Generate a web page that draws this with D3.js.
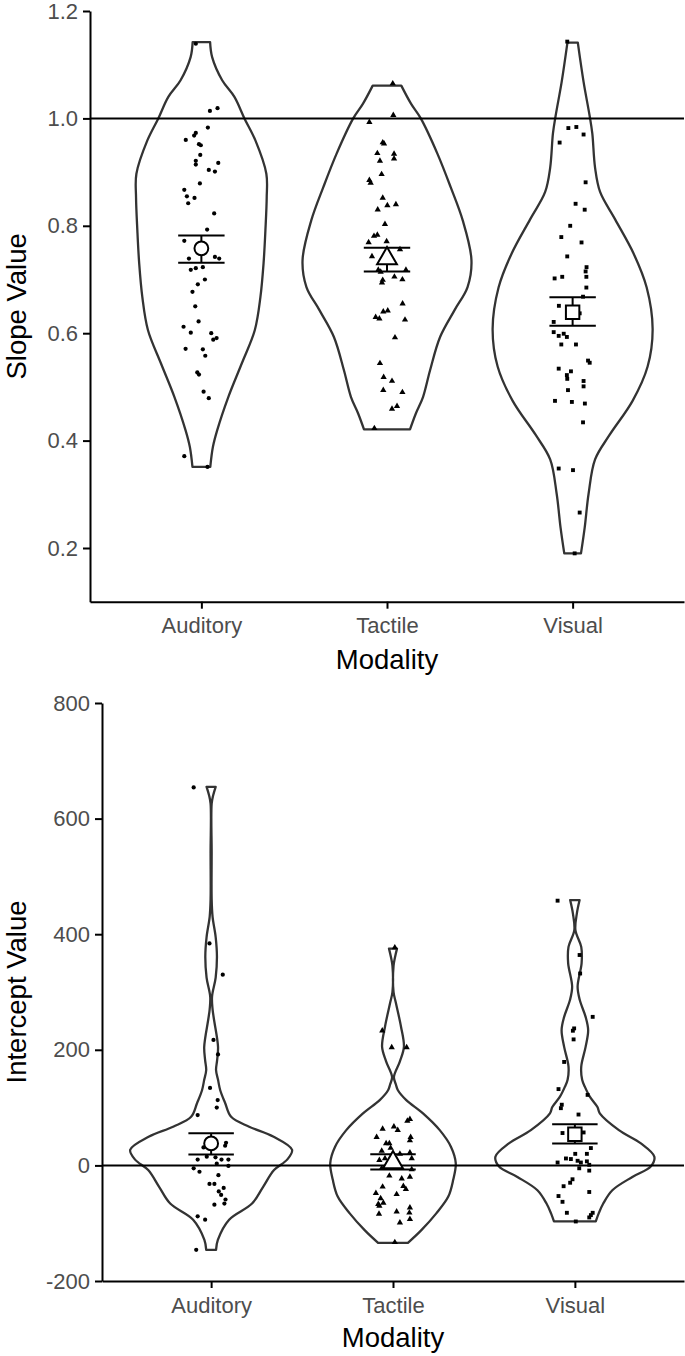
<!DOCTYPE html>
<html><head><meta charset="utf-8">
<script src="https://cdn.jsdelivr.net/npm/d3@7"></script>
<style>body{margin:0;background:#fff} svg{display:block}</style>
</head><body><svg id="c" width="685" height="1356"></svg>
<script>
// ---------- DATA ----------
const categories = ["Auditory", "Tactile", "Visual"];
const xTitle = "Modality";

// Top panel: slope
const slopeTitle = "Slope Value";
const slopeTicks = [0.2, 0.4, 0.6, 0.8, 1.0, 1.2];
const slopeTickLabels = ["0.2", "0.4", "0.6", "0.8", "1.0", "1.2"];
const slopeRef = 1.0;
const slopeMean = [0.758, 0.739, 0.639];
const slopeLower = [0.731, 0.715, 0.614];
const slopeUpper = [0.782, 0.759, 0.667];
// violin outlines: [value, half-width in category steps]
const slopeViolinAuditory = [[1.142,0.047],[1.114,0.058],[1.071,0.112],[1.04,0.178],[1.0,0.232],[0.959,0.291],[0.897,0.350],[0.853,0.352],[0.792,0.345],[0.730,0.335],[0.667,0.318],[0.606,0.288],[0.544,0.218],[0.481,0.145],[0.419,0.085],[0.388,0.062],[0.351,0.048]];
const slopeViolinTactile = [[1.061,0.077],[1.027,0.130],[1.0,0.182],[0.934,0.272],[0.872,0.343],[0.81,0.408],[0.736,0.455],[0.686,0.434],[0.643,0.364],[0.593,0.286],[0.531,0.232],[0.481,0.194],[0.451,0.156],[0.421,0.124]];
const slopeViolinVisual = [[1.141,0.028],[1.068,0.059],[1.004,0.092],[0.972,0.106],[0.908,0.121],[0.863,0.148],[0.812,0.229],[0.748,0.329],[0.685,0.399],[0.608,0.431],[0.538,0.404],[0.474,0.323],[0.41,0.198],[0.365,0.121],[0.301,0.086],[0.238,0.065],[0.19,0.045]];
// jittered observations: [value, jitter in category steps]
const slopeAuditory = [[1.139,-0.030],[1.014,0.046],[1.019,0.087],[0.983,0.035],[0.973,-0.030],[0.968,-0.039],[0.960,-0.084],[0.952,-0.013],[0.950,-0.003],[0.932,-0.006],[0.921,-0.030],[0.914,-0.030],[0.917,0.091],[0.904,0.040],[0.901,0.073],[0.879,-0.008],[0.867,-0.092],[0.855,-0.078],[0.852,-0.037],[0.842,-0.071],[0.823,0.069],[0.793,0.031],[0.772,-0.092],[0.739,-0.067],[0.742,0.073],[0.739,0.096],[0.718,-0.057],[0.721,-0.030],[0.723,0.008],[0.700,0.019],[0.691,-0.019],[0.677,-0.048],[0.650,-0.033],[0.622,-0.015],[0.612,-0.096],[0.601,-0.057],[0.600,0.053],[0.588,0.064],[0.591,0.082],[0.571,-0.085],[0.570,0.008],[0.558,0.021],[0.527,-0.022],[0.523,-0.013],[0.491,0.012],[0.479,0.040],[0.371,-0.092],[0.351,0.033]];
const slopeTactile = [[1.065,0.031],[1.006,0.034],[0.993,-0.095],[0.955,-0.023],[0.953,-0.016],[0.935,-0.052],[0.934,0.038],[0.925,0.038],[0.921,-0.038],[0.896,-0.029],[0.885,-0.095],[0.880,-0.088],[0.852,-0.023],[0.830,-0.050],[0.838,0.002],[0.840,0.048],[0.803,-0.011],[0.781,-0.070],[0.783,-0.052],[0.769,-0.099],[0.771,-0.002],[0.756,0.070],[0.743,-0.081],[0.718,-0.047],[0.714,-0.034],[0.718,0.102],[0.699,-0.023],[0.694,-0.027],[0.705,0.040],[0.700,0.083],[0.655,0.084],[0.630,-0.061],[0.627,-0.041],[0.640,-0.020],[0.642,0.004],[0.625,0.097],[0.592,0.043],[0.544,-0.038],[0.518,-0.018],[0.511,0.027],[0.494,-0.020],[0.490,0.083],[0.459,0.027],[0.464,0.054],[0.423,-0.068]];
const slopeVisual = [[1.143,-0.029],[0.982,-0.023],[0.984,0.020],[0.970,0.059],[0.955,-0.070],[0.881,0.070],[0.841,0.016],[0.830,0.065],[0.800,-0.013],[0.779,-0.061],[0.769,0.048],[0.743,-0.029],[0.723,0.075],[0.715,0.070],[0.702,-0.097],[0.705,-0.056],[0.705,0.074],[0.685,0.074],[0.668,0.056],[0.651,-0.074],[0.637,0.038],[0.621,-0.102],[0.602,-0.102],[0.595,-0.075],[0.599,-0.048],[0.593,-0.031],[0.579,-0.061],[0.579,0.018],[0.549,0.083],[0.545,0.092],[0.534,-0.075],[0.529,-0.009],[0.522,-0.031],[0.515,-0.029],[0.511,0.059],[0.501,0.059],[0.494,-0.025],[0.474,-0.095],[0.472,-0.004],[0.469,0.066],[0.434,0.056],[0.348,-0.075],[0.345,0.002],[0.266,0.038],[0.190,0.011]];

// Bottom panel: intercept
const interceptTitle = "Intercept Value";
const interceptTicks = [-200, 0, 200, 400, 600, 800];
const interceptTickLabels = ["-200", "0", "200", "400", "600", "800"];
const interceptRef = 0;
const interceptMean = [38, 5, 54];
const interceptLower = [19, -7, 38];
const interceptUpper = [55.5, 19.5, 71];
const interceptViolinAuditory = [[655,0.025],[640,0.011],[626,0.003],[540,0.003],[460,0.003],[430,0.008],[395,0.025],[361,0.032],[325,0.025],[292,0.005],[270,0.008],[252,0.016],[205,0.038],[182,0.033],[165,0.027],[148,0.038],[130,0.05],[108,0.077],[84,0.11],[67,0.209],[50,0.341],[27,0.445],[10,0.418],[-8,0.346],[-37,0.286],[-66,0.225],[-94,0.099],[-129,0.037],[-146,0.027]];
const interceptViolinTactile = [[375,0.022],[360,0.011],[345,0.003],[300,0.003],[281,0.016],[240,0.044],[205,0.060],[180,0.038],[153,0.005],[140,0.016],[130,0.027],[113,0.073],[90,0.165],[61,0.257],[32,0.319],[4,0.345],[-25,0.331],[-54,0.304],[-83,0.238],[-112,0.156],[-134,0.082]];
const interceptViolinVisual = [[459,0.026],[436,0.011],[407,0.003],[378,0.035],[350,0.037],[309,0.015],[286,0.027],[257,0.059],[234,0.073],[205,0.059],[171,0.035],[148,0.040],[136,0.055],[119,0.082],[101,0.124],[90,0.137],[61,0.242],[38,0.363],[15,0.437],[-2,0.417],[-20,0.316],[-43,0.206],[-66,0.156],[-83,0.131],[-97,0.115]];
const interceptAuditory = [[654,-0.096],[384,-0.009],[330,0.064],[217,0.013],[192,0.038],[134,-0.006],[113,0.036],[100,0.031],[87,-0.074],[39,0.082],[34,0.077],[31,-0.042],[10,-0.074],[15,-0.024],[14,0.024],[10,0.057],[10,0.095],[3,0.031],[-1,0.095],[-5,-0.096],[-11,-0.064],[-17,0.040],[-32,-0.009],[-32,0.018],[-39,0.069],[-45,0.042],[-51,0.055],[-59,0.079],[-66,0.073],[-68,0.018],[-88,-0.074],[-94,-0.033],[-146,-0.082]];
const interceptTactile = [[377,0.010],[233,-0.059],[204,-0.007],[204,0.075],[80,0.093],[77,0.079],[63,-0.057],[67,0.005],[61,0.026],[49,-0.090],[49,0.097],[43,0.093],[38,-0.038],[38,-0.020],[25,-0.062],[30,-0.013],[20,0.038],[22,0.093],[9,-0.075],[12,-0.044],[12,0.103],[-5,-0.062],[-7,0.103],[-18,-0.020],[-23,0.048],[-20,0.093],[-37,-0.057],[-36,0.057],[-41,0.071],[-48,-0.094],[-50,0.020],[-57,-0.068],[-67,-0.081],[-65,-0.053],[-70,-0.075],[-73,0.093],[-80,0.020],[-82,0.090],[-84,-0.077],[-99,0.038],[-93,0.093],[-133,0.010]];
const interceptVisual = [[458,-0.095],[364,0.026],[332,0.029],[257,0.098],[237,-0.004],[233,-0.011],[218,-0.007],[179,-0.059],[132,-0.090],[122,0.070],[105,-0.072],[99,-0.077],[88,0.020],[56,-0.068],[57,0.048],[30,0.088],[20,0.066],[12,-0.049],[20,0.002],[5,-0.095],[11,-0.022],[8,0.015],[5,0.033],[7,0.066],[1,0.079],[-5,0.024],[-9,0.079],[-24,-0.013],[-30,-0.026],[-36,-0.062],[-46,0.079],[-53,-0.090],[-63,-0.068],[-82,-0.044],[-82,0.098],[-90,0.079],[-97,0.005],[-86,0.088]];

// ---------- DRAWING ----------
const svg = d3.select("#c");
const FONT = '"Liberation Sans", Arial, Helvetica, sans-serif';
const symbolTypes = [d3.symbolCircle, d3.symbolTriangle, d3.symbolSquare];
const pointSizes = [14, 17, 15];
const meanSizes = [150, 170, 180];

function panel(cfg) {
  const x = d3.scalePoint().domain(categories).range([cfg.left, cfg.right]).padding(0.6);
  const y = d3.scaleLinear().domain(cfg.domain).range([cfg.bottom, cfg.top]);
  const step = x.step();
  const g = svg.append("g");

  // violins
  const side = d3.line().curve(d3.curveCatmullRom.alpha(0.5));
  cfg.violins.forEach((prof, i) => {
    const cx = x(categories[i]);
    const right = prof.map(([v, w]) => [cx + w * step, y(v)]);
    const left = prof.slice().reverse().map(([v, w]) => [cx - w * step, y(v)]);
    const d = side(right) + side(left).replace(/^M/, "L") + "Z";
    g.append("path").attr("d", d).attr("fill", "none")
      .attr("stroke", "#333").attr("stroke-width", 2.3).attr("stroke-linejoin", "round");
  });

  // reference line
  g.append("line").attr("x1", cfg.left).attr("x2", cfg.right)
    .attr("y1", y(cfg.ref)).attr("y2", y(cfg.ref))
    .attr("stroke", "#000").attr("stroke-width", 2);

  // jittered points
  cfg.points.forEach((pts, i) => {
    const cx = x(categories[i]);
    g.append("g").selectAll("path").data(pts).join("path")
      .attr("d", d3.symbol().type(symbolTypes[i]).size(pointSizes[i]))
      .attr("transform", d => `translate(${cx + d[1] * step},${y(d[0])})`)
      .attr("fill", "#000");
  });

  // error bars + mean
  categories.forEach((c, i) => {
    const cx = x(c);
    const hw = 0.125 * step;
    const eg = g.append("g").attr("stroke", "#000").attr("stroke-width", 2);
    eg.append("line").attr("x1", cx).attr("x2", cx).attr("y1", y(cfg.lower[i])).attr("y2", y(cfg.upper[i]));
    eg.append("line").attr("x1", cx - hw).attr("x2", cx + hw).attr("y1", y(cfg.lower[i])).attr("y2", y(cfg.lower[i]));
    eg.append("line").attr("x1", cx - hw).attr("x2", cx + hw).attr("y1", y(cfg.upper[i])).attr("y2", y(cfg.upper[i]));
    g.append("path").attr("d", d3.symbol().type(symbolTypes[i]).size(meanSizes[i]))
      .attr("transform", `translate(${cx},${y(cfg.mean[i])})`)
      .attr("fill", "#fff").attr("stroke", "#000").attr("stroke-width", 2);
  });

  // axes
  const ax = g.append("g").attr("transform", `translate(0,${cfg.bottom})`)
    .call(d3.axisBottom(x).tickSize(7).tickSizeOuter(0).tickPadding(9));
  const ay = g.append("g").attr("transform", `translate(${cfg.left},0)`)
    .call(d3.axisLeft(y).tickValues(cfg.ticks).tickFormat((d, i) => cfg.tickLabels[i])
      .tickSize(7).tickSizeOuter(0).tickPadding(5));
  [ax, ay].forEach(a => {
    a.select(".domain").attr("stroke", "#000").attr("stroke-width", 2);
    a.selectAll(".tick line").attr("stroke", "#000").attr("stroke-width", 2);
    a.selectAll(".tick text").attr("fill", "#4d4d4d").style("font-family", FONT).style("font-size", "22px");
  });

  // titles
  g.append("text").attr("x", (cfg.left + cfg.right) / 2).attr("y", cfg.xTitleY)
    .attr("text-anchor", "middle").style("font-family", FONT).style("font-size", "27.5px")
    .attr("fill", "#000").text(xTitle);
  g.append("text").attr("transform", `translate(26,${(cfg.top + cfg.bottom) / 2}) rotate(-90)`)
    .attr("text-anchor", "middle").style("font-family", FONT).style("font-size", "27.5px")
    .attr("fill", "#000").text(cfg.yTitle);
}

panel({
  left: 90, right: 684, top: 11, bottom: 601.7, domain: [0.1, 1.2],
  ticks: slopeTicks, tickLabels: slopeTickLabels, ref: slopeRef,
  violins: [slopeViolinAuditory, slopeViolinTactile, slopeViolinVisual],
  points: [slopeAuditory, slopeTactile, slopeVisual],
  mean: slopeMean, lower: slopeLower, upper: slopeUpper,
  yTitle: slopeTitle, xTitleY: 669
});
panel({
  left: 102, right: 684, top: 703, bottom: 1281, domain: [-200, 800],
  ticks: interceptTicks, tickLabels: interceptTickLabels, ref: interceptRef,
  violins: [interceptViolinAuditory, interceptViolinTactile, interceptViolinVisual],
  points: [interceptAuditory, interceptTactile, interceptVisual],
  mean: interceptMean, lower: interceptLower, upper: interceptUpper,
  yTitle: interceptTitle, xTitleY: 1347
});
</script></body></html>
